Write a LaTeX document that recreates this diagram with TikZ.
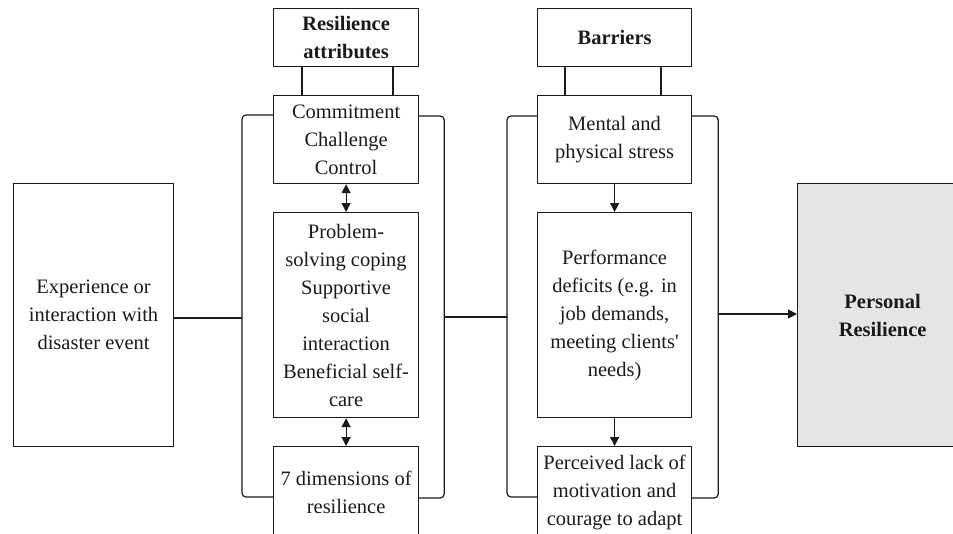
\documentclass[tikz,border=0pt]{standalone}
\usepackage{fontspec}
\setmainfont{Liberation Serif}
\usetikzlibrary{arrows.meta,calc}
\definecolor{boxgray}{HTML}{E5E5E5}
\definecolor{ink}{HTML}{1A1A1A}
\tikzset{
  box/.style={draw=ink, line width=1.2pt, rectangle, anchor=north west,
    inner sep=2pt, align=center, text=ink,
    font=\fontsize{20.5}{28}\selectfont},
  link/.style={draw=ink, line width=1.2pt},
  bracket/.style={link, rounded corners=4pt},
  tip/.style={-{Triangle[length=9pt,width=9pt]}},
  duo/.style={{Triangle[length=9pt,width=9pt]}-{Triangle[length=9pt,width=9pt]}}
}
\begin{document}
\begin{tikzpicture}[x=1pt,y=-1pt]
\useasboundingbox (0,0) rectangle (953,533);

% input
\node[box, minimum width=160pt, minimum height=263pt] (exp) at (13,183)
  {Experience or\\interaction with\\disaster event};

% resilience attributes column
\node[box, minimum width=145pt, minimum height=58pt] (ra) at (273,8)
  {\bfseries Resilience\\\bfseries attributes};
\node[box, minimum width=145pt, minimum height=88pt] (c1) at (273,95)
  {Commitment\\Challenge\\Control};
\node[box, minimum width=145pt, minimum height=205pt] (c2) at (273,212)
  {Problem-\\solving coping\\Supportive\\social\\interaction\\Beneficial self-\\care};
\node[box, minimum width=145pt, minimum height=92pt] (c3) at (273,446)
  {7 dimensions of\\resilience};

% barriers column
\node[box, minimum width=154pt, minimum height=58pt] (bar) at (537,8)
  {\bfseries Barriers};
\node[box, minimum width=154pt, minimum height=88pt] (b1) at (537,95)
  {Mental and\\physical stress};
\node[box, minimum width=154pt, minimum height=205pt] (b2) at (537,212)
  {Performance\\deficits (e.g. in\\job demands,\\meeting clients\textquotesingle\\needs)};
\node[box, minimum width=154pt, minimum height=92pt] (b3) at (537,446)
  {Perceived lack of\\motivation and\\courage to adapt};

% outcome
\node[box, fill=boxgray, minimum width=170pt, minimum height=263pt] (pr) at (797,183)
  {\bfseries Personal\\\bfseries Resilience};

% header ties
\draw[link] ($(ra.south west)+(29,0)$) -- ($(c1.north west)+(29,0)$);
\draw[link] ($(ra.south west)+(120,0)$) -- ($(c1.north west)+(120,0)$);
\draw[link] ($(bar.south west)+(28,0)$) -- ($(b1.north west)+(28,0)$);
\draw[link] ($(bar.south west)+(124,0)$) -- ($(b1.north west)+(124,0)$);

% arrows inside the columns
\draw[link, duo] (c1.south) -- (c2.north);
\draw[link, duo] (c2.south) -- (c3.north);
\draw[link, tip] (b1.south) -- (b2.north);
\draw[link, tip] (b2.south) -- (b3.north);

% brackets around the columns
\coordinate (lTop) at ($(c1.north west)+(0,20)$);
\coordinate (lBot) at ($(c3.north west)+(0,51)$);
\coordinate (rTop) at ($(c1.north east)+(0,21)$);
\coordinate (rBot) at ($(c3.north east)+(0,52)$);
\draw[bracket] (lTop) -- ++(-31,0) coordinate (lA) |- (lBot);
\draw[bracket] (rTop) -- ++(25,0) coordinate (rA) |- (rBot);

\coordinate (mTop) at ($(b1.north west)+(0,21)$);
\coordinate (mBot) at ($(b3.north west)+(0,51)$);
\coordinate (nTop) at ($(b1.north east)+(0,21)$);
\coordinate (nBot) at ($(b3.north east)+(0,52)$);
\draw[bracket] (mTop) -- ++(-30,0) coordinate (mA) |- (mBot);
\draw[bracket] (nTop) -- ++(26,0) coordinate (nA) |- (nBot);

% flow between the groups
\draw[link] (exp.east |- 0,318) -- (lA |- 0,318);
\draw[link] (rA |- 0,317) -- (mA |- 0,317);
\draw[link, tip] (nA |- 0,314) -- (pr.west |- 0,314);
\end{tikzpicture}
\end{document}
